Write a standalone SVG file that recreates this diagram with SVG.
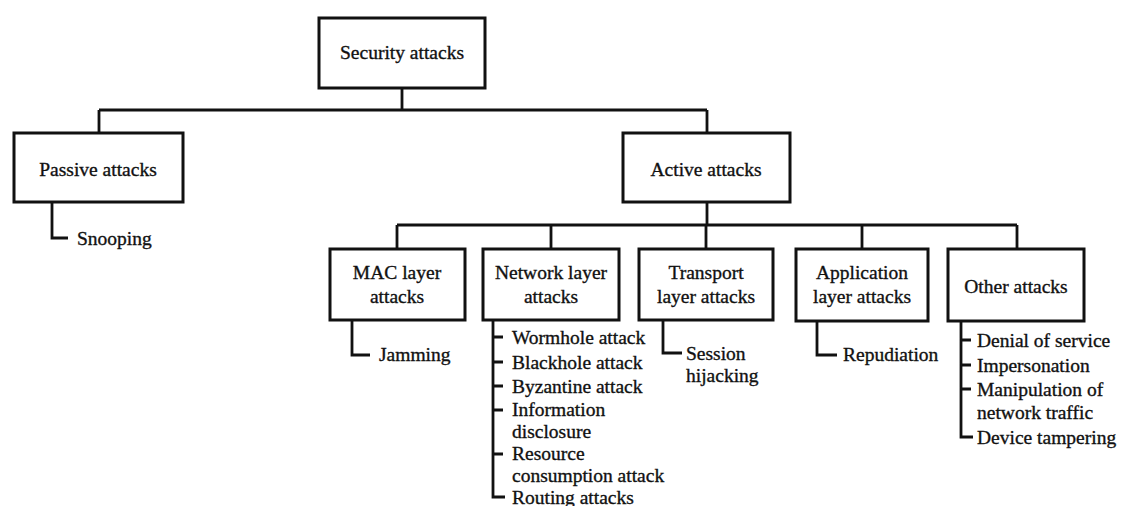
<svg xmlns="http://www.w3.org/2000/svg" width="1125" height="506" viewBox="0 0 1125 506">
<style>
.box{fill:#fff;stroke:#111;stroke-width:3}
.ln{fill:none;stroke:#111;stroke-width:2.8}
.t{font-family:"Liberation Serif","Times New Roman",serif;font-size:19.5px;fill:#111;stroke:#111;stroke-width:0.35}
.c{text-anchor:middle}
</style>
<rect width="1125" height="506" fill="#fff"/>
<g id="connectors">
<path class="ln" d="M402 88V110M99 110H707M99 110V133M707 110V133"/>
<path class="ln" d="M52 202V238H68"/>
<path class="ln" d="M707 202V225M397 225H1017M397 225V249M551 225V249M706 225V249M862 225V249M1017 225V249"/>
<path class="ln" d="M352 320V355H370"/>
<path class="ln" d="M493 320V497H505M493 337H503M493 362H503M493 386H503M493 410H503M493 454H503"/>
<path class="ln" d="M663 320V353H682"/>
<path class="ln" d="M817 321V355H837"/>
<path class="ln" d="M961 321V437H973M961 340H971M961 365H971M961 389H971"/>
</g>
<g id="security">
<rect class="box" x="319" y="18" width="166" height="70"/>
<text class="t c" x="402" y="59">Security attacks</text>
</g>
<g id="passive">
<rect class="box" x="14" y="133" width="169" height="69"/>
<text class="t c" x="98" y="176">Passive attacks</text>
</g>
<g id="snooping">
<text class="t" x="77" y="245">Snooping</text>
</g>
<g id="active">
<rect class="box" x="623" y="133" width="167" height="69"/>
<text class="t c" x="706" y="176">Active attacks</text>
</g>
<g id="mac">
<rect class="box" x="330" y="249" width="135" height="71"/>
<text class="t c" x="397" y="279">MAC layer<tspan x="397" dy="24">attacks</tspan></text>
</g>
<g id="jamming">
<text class="t" x="379" y="361">Jamming</text>
</g>
<g id="network">
<rect class="box" x="483" y="249" width="136" height="71"/>
<text class="t c" x="551" y="279">Network layer<tspan x="551" dy="24">attacks</tspan></text>
</g>
<g id="network-list">
<text class="t" x="512" y="344">Wormhole attack</text>
<text class="t" x="512" y="369">Blackhole attack</text>
<text class="t" x="512" y="393">Byzantine attack</text>
<text class="t" x="512" y="416">Information<tspan x="512" dy="22">disclosure</tspan></text>
<text class="t" x="512" y="460">Resource<tspan x="512" dy="22">consumption attack</tspan></text>
<text class="t" x="512" y="504">Routing attacks</text>
</g>
<g id="transport">
<rect class="box" x="639" y="249" width="134" height="71"/>
<text class="t c" x="706" y="279">Transport<tspan x="706" dy="24">layer attacks</tspan></text>
</g>
<g id="session">
<text class="t" x="686" y="360">Session<tspan x="686" dy="22">hijacking</tspan></text>
</g>
<g id="application">
<rect class="box" x="796" y="249" width="132" height="72"/>
<text class="t c" x="862" y="279">Application<tspan x="862" dy="24">layer attacks</tspan></text>
</g>
<g id="repudiation">
<text class="t" x="843" y="361">Repudiation</text>
</g>
<g id="other">
<rect class="box" x="948" y="249" width="136" height="72"/>
<text class="t c" x="1016" y="293">Other attacks</text>
</g>
<g id="other-list">
<text class="t" x="977" y="347">Denial of service</text>
<text class="t" x="977" y="372">Impersonation</text>
<text class="t" x="977" y="396">Manipulation of<tspan x="977" dy="23">network traffic</tspan></text>
<text class="t" x="977" y="444">Device tampering</text>
</g>
</svg>
